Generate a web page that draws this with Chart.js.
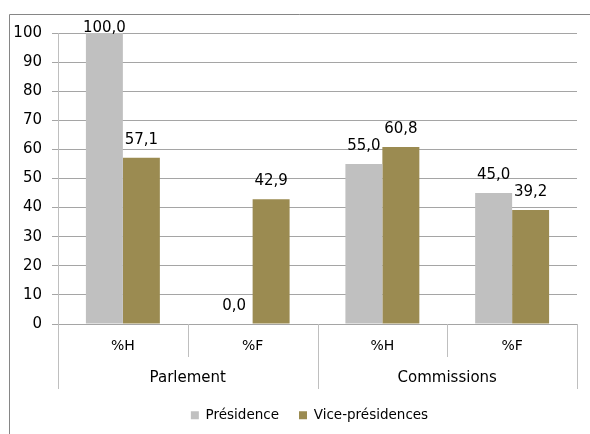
<!DOCTYPE html>
<html lang="fr">
<head>
<meta charset="UTF-8">
<title>Présidence / Vice-présidences</title>
<script src="https://cdn.jsdelivr.net/npm/chart.js"></script>
<style>
  body { margin: 0; background: #fff; }
  #wrap { width: 590px; height: 434px; }
</style>
</head>
<body>
<div id="wrap"><canvas id="chart" width="590" height="434"></canvas></div>
<script>
// donnees
const categories = ['%H', '%F', '%H', '%F'];
const groups = ['Parlement', 'Commissions'];
const presidence = [100.0, 0.0, 55.0, 45.0];
const vicePresidences = [57.1, 42.9, 60.8, 39.2];
const yTicks = [0, 10, 20, 30, 40, 50, 60, 70, 80, 90, 100];

const FONT = "'DejaVu Sans', sans-serif";

// cadre, separateurs et libelles de groupe
const decor = {
  id: 'decor',
  afterLayout(chart) {
    // legende un peu decalee vers la gauche comme sur l'original
    chart.legend.left -= 8;
    chart.legend.right -= 8;
  },
  beforeDraw(chart) {
    const c = chart.ctx;
    c.save();
    c.fillStyle = '#fff';
    c.fillRect(0, 0, chart.width, chart.height);
    c.strokeStyle = '#868686';
    c.lineWidth = 1;
    c.beginPath();
    c.moveTo(9.5, chart.height);
    c.lineTo(9.5, 14.5);
    c.lineTo(chart.width, 14.5);
    c.stroke();
    c.restore();
  },
  afterDraw(chart) {
    const c = chart.ctx;
    const x = chart.scales.x;
    const top = chart.chartArea.bottom;
    const bounds = [x.left];
    for (let i = 0; i < categories.length - 1; i++) {
      bounds.push((x.getPixelForValue(i) + x.getPixelForValue(i + 1)) / 2);
    }
    bounds.push(x.right);
    c.save();
    c.strokeStyle = '#bfbfbf';
    c.lineWidth = 1;
    bounds.forEach((bx, i) => {
      const long = i % 2 === 0;
      const px = Math.round(bx) + 0.5;
      c.beginPath();
      c.moveTo(px, top);
      c.lineTo(px, long ? 389 : 357);
      c.stroke();
    });
    c.fillStyle = '#000';
    c.font = '15px ' + FONT;
    c.textAlign = 'center';
    c.textBaseline = 'middle';
    groups.forEach((g, i) => {
      c.fillText(g, (bounds[i * 2] + bounds[i * 2 + 2]) / 2, 378);
    });
    c.restore();
  }
};

// etiquettes de valeur au-dessus des barres
const valueLabels = {
  id: 'valueLabels',
  afterDatasetsDraw(chart) {
    const c = chart.ctx;
    c.save();
    c.fillStyle = '#000';
    c.font = '15px ' + FONT;
    c.textAlign = 'center';
    c.textBaseline = 'middle';
    chart.data.datasets.forEach((ds, di) => {
      chart.getDatasetMeta(di).data.forEach((bar, i) => {
        const txt = ds.data[i].toFixed(1).replace('.', ',');
        const y = Math.max(bar.y - 18, chart.chartArea.top - 5);
        c.fillText(txt, bar.x, y);
      });
    });
    c.restore();
  }
};

new Chart(document.getElementById('chart'), {
  type: 'bar',
  data: {
    labels: categories,
    datasets: [
      { label: 'Présidence', data: presidence, backgroundColor: '#c0c0c0', borderWidth: 0 },
      { label: 'Vice-présidences', data: vicePresidences, backgroundColor: '#9b8b51', borderWidth: 0 }
    ]
  },
  options: {
    responsive: false,
    animation: false,
    categoryPercentage: 0.57,
    barPercentage: 1,
    layout: { padding: { left: 0, top: 33, right: 13, bottom: 2 } },
    plugins: {
      tooltip: { enabled: false },
      legend: {
        position: 'bottom',
        fullSize: false,
        labels: {
          boxWidth: 8,
          boxHeight: 8,
          padding: 20,
          color: '#000',
          font: { family: FONT, size: 13.5 }
        }
      }
    },
    scales: {
      x: {
        grid: { display: false, drawTicks: false },
        border: { color: '#a5a5a5' },
        ticks: { color: '#000', padding: 14, font: { family: FONT, size: 14 } },
        afterFit(s) { s.height = 64.5; }
      },
      y: {
        min: 0,
        max: 100,
        afterBuildTicks(s) { s.ticks = yTicks.map(v => ({ value: v })); },
        grid: { color: '#a5a5a5', tickLength: 6 },
        border: { color: '#bfbfbf' },
        ticks: { color: '#000', padding: 10, font: { family: FONT, size: 15 } },
        afterFit(s) { s.width = 58; }
      }
    }
  },
  plugins: [decor, valueLabels]
});
</script>
</body>
</html>
